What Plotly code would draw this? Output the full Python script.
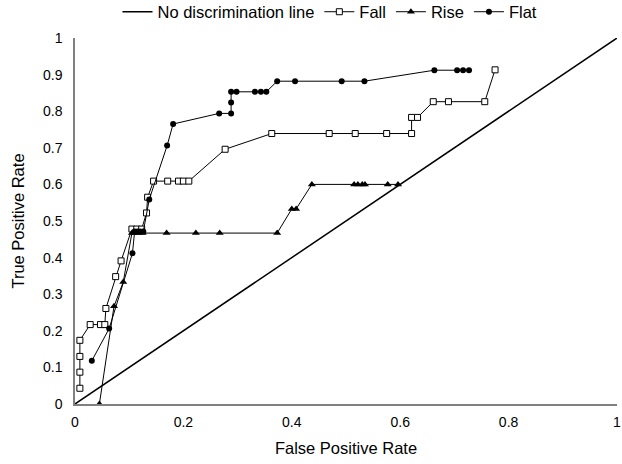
import plotly.graph_objects as go

diag_x = [i * 0.05 for i in range(21)]
diag_y = diag_x

fall_x = [0.009, 0.009, 0.009, 0.009, 0.028, 0.047, 0.055, 0.057, 0.075, 0.085, 0.105, 0.114, 0.123, 0.132, 0.134,
          0.145, 0.171, 0.191, 0.2, 0.21, 0.277, 0.363, 0.469, 0.517, 0.575, 0.621, 0.621, 0.632, 0.661, 0.689, 0.756, 0.775]
fall_y = [0.043, 0.087, 0.13, 0.174, 0.217, 0.217, 0.217, 0.261, 0.348, 0.391, 0.478, 0.478, 0.478, 0.522, 0.565,
          0.609, 0.609, 0.609, 0.609, 0.609, 0.696, 0.739, 0.739, 0.739, 0.739, 0.739, 0.783, 0.783, 0.826, 0.826, 0.826, 0.913]

rise_x = [0.045, 0.072, 0.089, 0.105, 0.11, 0.117, 0.125, 0.169, 0.223, 0.267, 0.373, 0.40, 0.408, 0.437,
          0.515, 0.522, 0.53, 0.535, 0.577, 0.596]
rise_y = [0.0, 0.267, 0.333, 0.467, 0.467, 0.467, 0.467, 0.467, 0.467, 0.467, 0.467, 0.533, 0.533, 0.6,
          0.6, 0.6, 0.6, 0.6, 0.6, 0.6]

flat_x = [0.031, 0.063, 0.106, 0.11, 0.115, 0.12, 0.126, 0.137, 0.17, 0.181, 0.266, 0.288, 0.288, 0.288, 0.298,
          0.332, 0.343, 0.353, 0.373, 0.406, 0.492, 0.534, 0.663, 0.705, 0.716, 0.727]
flat_y = [0.118, 0.206, 0.412, 0.471, 0.471, 0.471, 0.471, 0.559, 0.706, 0.765, 0.794, 0.794, 0.824, 0.853, 0.853,
          0.853, 0.853, 0.853, 0.882, 0.882, 0.882, 0.882, 0.912, 0.912, 0.912, 0.912]

x_ticks = [0, 0.2, 0.4, 0.6, 0.8, 1]
x_labels = ["0", "0.2", "0.4", "0.6", "0.8", "1"]
y_ticks = [0, 0.1, 0.2, 0.3, 0.4, 0.5, 0.6, 0.7, 0.8, 0.9, 1]
y_labels = ["0", "0.1", "0.2", "0.3", "0.4", "0.5", "0.6", "0.7", "0.8", "0.9", "1"]

fig = go.Figure()
fig.add_trace(go.Scatter(x=diag_x, y=diag_y, mode="lines", name="No discrimination line",
                         line=dict(color="black", width=1.5), cliponaxis=False))
fig.add_trace(go.Scatter(x=fall_x, y=fall_y, mode="lines+markers", name="Fall",
                         line=dict(color="black", width=1),
                         marker=dict(symbol="square", size=6, color="white", line=dict(color="black", width=1)),
                         cliponaxis=False))
fig.add_trace(go.Scatter(x=rise_x, y=rise_y, mode="lines+markers", name="Rise",
                         line=dict(color="black", width=1),
                         marker=dict(symbol="triangle-up", size=7, color="black"),
                         cliponaxis=False))
fig.add_trace(go.Scatter(x=flat_x, y=flat_y, mode="lines+markers", name="Flat",
                         line=dict(color="black", width=1),
                         marker=dict(symbol="circle", size=6, color="black"),
                         cliponaxis=False))

fig.update_layout(
    width=622, height=464,
    margin=dict(l=75, r=5, t=38, b=60, autoexpand=False),
    paper_bgcolor="white", plot_bgcolor="white",
    font=dict(family="Liberation Sans, Arial, sans-serif", size=14, color="black"),
    showlegend=True,
    legend=dict(orientation="h", xref="container", x=330 / 622, xanchor="center",
                yref="container", y=1 - 12 / 464, yanchor="middle",
                font=dict(size=16.5), itemwidth=30, tracegroupgap=0,
                bgcolor="rgba(0,0,0,0)"),
    xaxis=dict(range=[0, 1], tickvals=x_ticks, ticktext=x_labels, showgrid=False, zeroline=False,
               showline=True, linecolor="#808080", linewidth=1.5, ticks="", ticklen=0,
               tickfont=dict(size=14), automargin=False, ticklabelstandoff=4,
               title=dict(text="False Positive Rate", font=dict(size=16.5), standoff=14)),
    yaxis=dict(range=[0, 1], tickvals=y_ticks, ticktext=y_labels, showgrid=False, zeroline=False,
               showline=True, linecolor="#808080", linewidth=1.5, ticks="", ticklen=0,
               tickfont=dict(size=14), automargin=False, ticklabelstandoff=8,
               title=dict(text="True Positive Rate", font=dict(size=16.5), standoff=14)),
)

fig.write_html("out.html")
